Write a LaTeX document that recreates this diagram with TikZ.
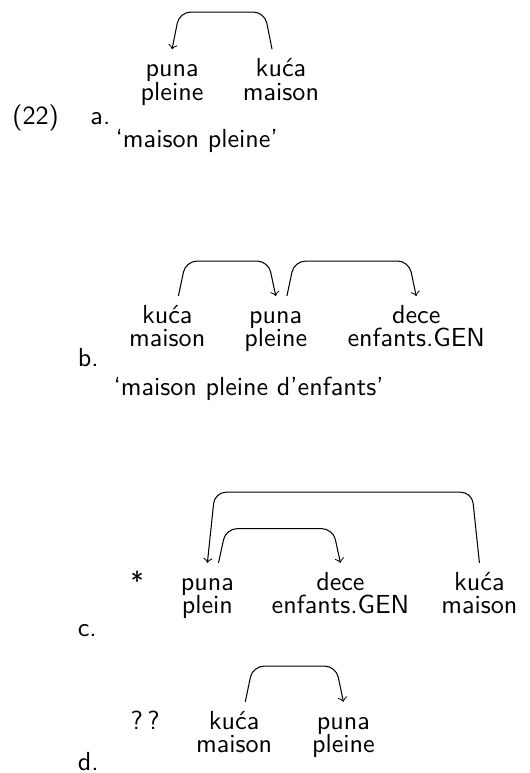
\documentclass[tikz,border=0pt]{standalone}
\usepackage{fontspec}
\usetikzlibrary{calc}

\begin{document}
\begin{tikzpicture}[x=1mm, y=1mm, line width=0.4pt,
  every node/.style={font=\sffamily},
  word/.style={anchor=base, inner xsep=0pt, inner ysep=3.8pt, text height=1.5ex, text depth=.25ex},
  gloss/.style={anchor=base, inner sep=0pt},
  ltxt/.style={anchor=base west, inner sep=0pt},
  dep/.style={->, rounded corners=1.5mm}]

\useasboundingbox (0,0) rectangle (71.2,-104);

% (22a)
\node[ltxt] (ex) at (1.6,-16.7) {(22)};
\node[ltxt] (a-lbl) at (12.1,-16.7) {a.};
\node[word] (a-puna) at (23.15,-10.3) {puna};
\node[word] (a-kuca) at (37.8,-10.3) {kuća};
\node[gloss] (a-pleine) at ([yshift=-9pt]a-puna.base) {pleine};
\node[gloss] (a-maison) at ([yshift=-9pt]a-kuca.base) {maison};
\node[ltxt] (a-trans) at (15.5,-19.8) {‘maison pleine’};
\draw[dep] ([xshift=-1.2mm]a-kuca.north) -- ++(-1,5) -- ($(a-puna.north)+(1,5)$) -- (a-puna.north);

% (22b)
\node[ltxt] (b-lbl) at (10.4,-49.3) {b.};
\node[word] (b-kuca) at (22.5,-43.5) {kuća};
\node[word] (b-puna) at (37.1,-43.5) {puna};
\node[word] (b-dece) at (56.0,-43.5) {dece};
\node[gloss] (b-maison) at ([yshift=-9pt]b-kuca.base) {maison};
\node[gloss] (b-pleine) at ([yshift=-9pt]b-puna.base) {pleine};
\node[gloss] (b-enfants) at ([yshift=-9pt]b-dece.base) {enfants.GEN};
\node[ltxt] (b-trans) at (15.2,-53.2) {‘maison pleine d’enfants’};
\draw[dep] ([xshift=1.5mm]b-kuca.north) -- ++(1,4.7) -- ($(b-puna.north)+(-1,4.7)$) -- (b-puna.north);
\draw[dep] ([xshift=1.5mm]b-puna.north) -- ++(1,4.7) -- ($(b-dece.north)+(-1,4.7)$) -- (b-dece.north);

% (22c)
\node[ltxt] (c-star) at (17.5,-79.4) {*};
\node[ltxt] (c-lbl) at (10.4,-85.7) {c.};
\node[word] (c-puna) at (27.9,-79.4) {puna};
\node[word] (c-dece) at (45.8,-79.4) {dece};
\node[word] (c-kuca) at (64.5,-79.4) {kuća};
\node[gloss] (c-plein) at ([yshift=-9pt]c-puna.base) {plein};
\node[gloss] (c-enfants) at ([yshift=-9pt]c-dece.base) {enfants.GEN};
\node[gloss] (c-maison) at ([yshift=-9pt]c-kuca.base) {maison};
\draw[dep] (c-kuca.north) -- ++(-1,9.5) -- ($(c-puna.north)+(1,9.5)$) -- (c-puna.north);
\draw[dep] ([xshift=1.5mm]c-puna.north) -- ++(1,4.6) -- ($(c-dece.north)+(-1,4.6)$) -- (c-dece.north);

% (22d)
\node[ltxt] (d-mark) at (17.5,-98.1) {?\,?};
\node[ltxt] (d-lbl) at (10.4,-103.6) {d.};
\node[word] (d-kuca) at (31.5,-98.1) {kuća};
\node[word] (d-puna) at (46.2,-98.1) {puna};
\node[gloss] (d-maison) at ([yshift=-9pt]d-kuca.base) {maison};
\node[gloss] (d-pleine) at ([yshift=-9pt]d-puna.base) {pleine};
\draw[dep] ([xshift=1.5mm]d-kuca.north) -- ++(1,4.8) -- ($(d-puna.north)+(-1,4.8)$) -- (d-puna.north);

\end{tikzpicture}
\end{document}
